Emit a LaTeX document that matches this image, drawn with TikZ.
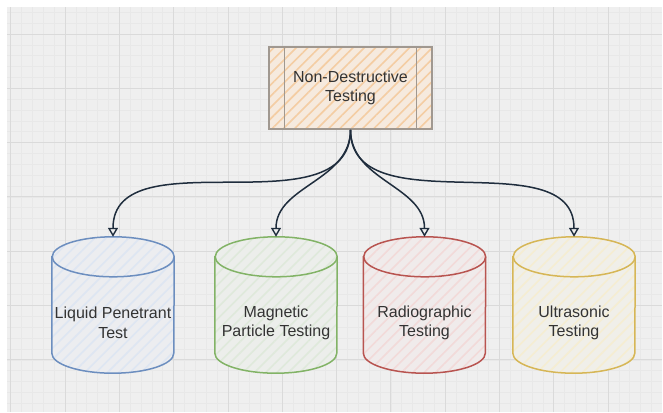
\documentclass[tikz,border=0pt]{standalone}
\usepackage{fontspec}
\setmainfont{Liberation Sans}
\usetikzlibrary{arrows.meta}
\usetikzlibrary{calc}
\usetikzlibrary{patterns.meta}
\definecolor{canvas}{RGB}{239,239,239}
\definecolor{gridminor}{RGB}{232,232,232}
\definecolor{gridmajor}{RGB}{218,218,218}
\definecolor{txtgrey}{RGB}{51,51,51}
\definecolor{boxedge}{RGB}{160,152,144}
\definecolor{boxbase}{RGB}{246,234,222}
\definecolor{boxhatch}{RGB}{244,205,163}
\definecolor{arrowdark}{RGB}{31,45,61}
\definecolor{blueedge}{RGB}{108,142,191}
\definecolor{bluehatch}{RGB}{222,230,242}
\definecolor{greenedge}{RGB}{130,179,102}
\definecolor{greenhatch}{RGB}{223,233,219}
\definecolor{rededge}{RGB}{184,84,80}
\definecolor{redhatch}{RGB}{242,218,217}
\definecolor{yellowedge}{RGB}{214,182,86}
\definecolor{yellowhatch}{RGB}{245,237,210}
\tikzset{
	textnode/.style = {align=center, inner sep=0pt, text centered,
		text=txtgrey, font=\fontsize{16}{19.5}\selectfont},
	ndt_box/.style = {rectangle, draw=boxedge, line width=1.2pt,
		minimum width=163pt, minimum height=82pt, textnode,
		preaction={fill=boxbase},
		pattern={Lines[angle=45, distance=8pt, line width=1.6pt]},
		pattern color=boxhatch},% boite du haut, hachures orange
	box_line/.style = {draw=boxedge, line width=1.2pt},
	cyl_box/.style = {rectangle, inner sep=0pt,
		minimum width=122pt, minimum height=136pt},% cylindre, zone vide
	cyl_edge/.style = {draw=#1edge, line width=1.5pt,
		preaction={fill=canvas!80!#1hatch},
		pattern={Lines[angle=45, distance=8pt, line width=1.6pt]},
		pattern color=#1hatch},% cylindre, contour et hachures
	link/.style = {draw=arrowdark, line width=1.5pt,
		-{Triangle[open, width=10pt, length=9pt, line width=1.4pt]}},
	grid_minor/.style = {draw=gridminor, line width=0.6pt},
	grid_major/.style = {draw=gridmajor, line width=0.8pt}
}
\begin{document}
\begin{tikzpicture}[x=1pt, y=1pt]
	\useasboundingbox (0,0) rectangle (663,412);
	\fill[white] (0,0) rectangle (663,412);
	\fill[canvas] (7,0) rectangle (662,405);
	\begin{scope}
		\clip (7,0) rectangle (662,405);
		\foreach \i in {0,...,59} \draw[grid_minor] ({10.7+10.86*\i},0) -- ++(0,405);
		\foreach \j in {0,...,36} \draw[grid_minor] (7,{399.72-10.86*\j}) -- ++(655,0);
		\foreach \k in {0,...,11} \draw[grid_major] ({10.7+54.3*\k},0) -- ++(0,405);
		\foreach \k in {0,...,6} \draw[grid_major] (7,{378-54.3*\k}) -- ++(655,0);
	\end{scope}
	% top box
	\node[ndt_box] (ndt) at (350.5,324) {Non-Destructive\\Testing};
	\draw[box_line] ($(ndt.north west)+(16,0)$) -- ($(ndt.south west)+(16,0)$);
	\draw[box_line] ($(ndt.north east)+(-16,0)$) -- ($(ndt.south east)+(-16,0)$);
	% the four cylinders
	\foreach \nm/\x/\col/\txt in {lpt/113/blue/{Liquid Penetrant\\Test},
			mpt/276/green/{Magnetic\\Particle Testing},
			rt/424.5/red/{Radiographic\\Testing},
			ut/574/yellow/{Ultrasonic\\Testing}} {
		\node[cyl_box] (\nm) at (\x,107) {};
		\draw[cyl_edge=\col] ($(\nm.north west)+(0,-20)$)
			-- ($(\nm.south west)+(0,20)$) arc (180:360:61 and 20)
			-- ($(\nm.north east)+(0,-20)$) arc (0:180:61 and 20) -- cycle;
		\draw[draw=\col edge, line width=1.5pt]
			($(\nm.north east)+(0,-20)$) arc (0:-180:61 and 20);
		\node[textnode] (\nm-txt) at ($(\nm.center)+(0,-18)$) {\txt};
	}
	% arrows
	\foreach \nm in {lpt, mpt, rt, ut}
		\draw[link] (ndt.south) to[out=-90, in=90] (\nm.north);
\end{tikzpicture}
\end{document}
